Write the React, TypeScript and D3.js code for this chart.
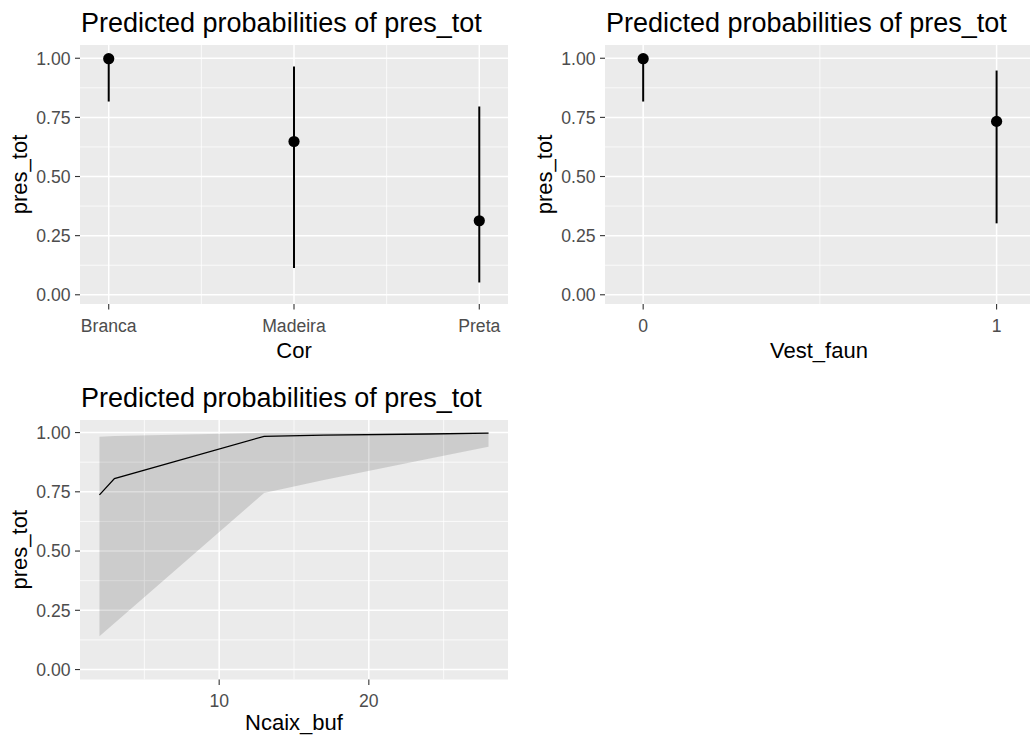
import React from "react";
import * as d3 from "d3";

const W = 1030;
const H = 740;
const FONT = "'Liberation Sans', Arial, Helvetica, sans-serif";

// Shared y axis (probability)
const yMajorTicks = [0, 0.25, 0.5, 0.75, 1];
const yMinorTicks = [0.125, 0.375, 0.625, 0.875];
const yTickLabels = ["0.00", "0.25", "0.50", "0.75", "1.00"];

const plotTitle = "Predicted probabilities of pres_tot";
const responseName = "pres_tot";

// Cor (categorical)
const corCategories = ["Branca", "Madeira", "Preta"];
const corPredicted = [0.998, 0.648, 0.313];
const corLower = [0.817, 0.113, 0.052];
const corUpper = [1.0, 0.965, 0.796];

// Vest_faun (0/1)
const vestLevels = [0, 1];
const vestPredicted = [0.998, 0.733];
const vestLower = [0.817, 0.302];
const vestUpper = [1.0, 0.948];
const vestMinorTicks = [0.5];

// Ncaix_buf (continuous)
const ncaixX = [2, 3, 13, 17, 24, 28];
const ncaixPredicted = [0.737, 0.806, 0.984, 0.989, 0.994, 0.998];
const ncaixLower = [0.14, 0.195, 0.745, 0.8, 0.89, 0.94];
const ncaixUpper = [0.982, 0.985, 0.999, 1.0, 1.0, 1.0];
const ncaixMajorTicks = [10, 20];
const ncaixMinorTicks = [5, 15, 25];

type Box = { x0: number; x1: number; y0: number; y1: number };

const PANEL_BG = "#EBEBEB";
const TICK_COLOR = "#333333";
const LABEL_COLOR = "#4D4D4D";

function Frame({
  box,
  yScale,
  xMajor,
  xMinor,
  xLabels,
  xTitle,
  xTitleOffset,
  children,
}: {
  box: Box;
  yScale: d3.ScaleLinear<number, number>;
  xMajor: number[];
  xMinor: number[];
  xLabels: string[];
  xTitle: string;
  xTitleOffset: number;
  children?: React.ReactNode;
}) {
  const clipId = `clip-${box.x0}-${box.y0}`;
  return (
    <g>
      <defs>
        <clipPath id={clipId}>
          <rect x={box.x0} y={box.y0} width={box.x1 - box.x0} height={box.y1 - box.y0} />
        </clipPath>
      </defs>
      <rect x={box.x0} y={box.y0} width={box.x1 - box.x0} height={box.y1 - box.y0} fill={PANEL_BG} />
      <g clipPath={`url(#${clipId})`}>
        {yMinorTicks.map((t) => (
          <line key={"ym" + t} x1={box.x0} x2={box.x1} y1={yScale(t)} y2={yScale(t)} stroke="#fff" strokeWidth={0.75} />
        ))}
        {xMinor.map((px, i) => (
          <line key={"xm" + i} x1={px} x2={px} y1={box.y0} y2={box.y1} stroke="#fff" strokeWidth={0.75} />
        ))}
        {yMajorTicks.map((t) => (
          <line key={"yM" + t} x1={box.x0} x2={box.x1} y1={yScale(t)} y2={yScale(t)} stroke="#fff" strokeWidth={1.5} />
        ))}
        {xMajor.map((px, i) => (
          <line key={"xM" + i} x1={px} x2={px} y1={box.y0} y2={box.y1} stroke="#fff" strokeWidth={1.5} />
        ))}
        {children}
      </g>
      {/* y axis */}
      {yMajorTicks.map((t, i) => (
        <g key={"yt" + t}>
          <line x1={box.x0 - 5} x2={box.x0} y1={yScale(t)} y2={yScale(t)} stroke={TICK_COLOR} strokeWidth={1.1} />
          <text
            x={box.x0 - 9.5}
            y={yScale(t)}
            dy="0.36em"
            textAnchor="end"
            fontSize={17.6}
            fill={LABEL_COLOR}
          >
            {yTickLabels[i]}
          </text>
        </g>
      ))}
      {/* x axis */}
      {xMajor.map((px, i) => (
        <g key={"xt" + i}>
          <line x1={px} x2={px} y1={box.y1} y2={box.y1 + 5.5} stroke={TICK_COLOR} strokeWidth={1.1} />
          <text x={px} y={box.y1 + 27.5} textAnchor="middle" fontSize={17.6} fill={LABEL_COLOR}>
            {xLabels[i]}
          </text>
        </g>
      ))}
      <text x={(box.x0 + box.x1) / 2} y={box.y1 + xTitleOffset} textAnchor="middle" fontSize={22} fill="#000">
        {xTitle}
      </text>
      <text
        transform={`translate(${box.x0 - 53},${(box.y0 + box.y1) / 2}) rotate(-90)`}
        textAnchor="middle"
        fontSize={22}
        fill="#000"
      >
        {responseName}
      </text>
      <text x={box.x0 + 1} y={box.y0 - 13} fontSize={27} fill="#000">
        {plotTitle}
      </text>
    </g>
  );
}

export default function App() {
  // Panel geometry
  const boxCor: Box = { x0: 80, x1: 508, y0: 45, y1: 304 };
  const boxVest: Box = { x0: 605, x1: 1033, y0: 45, y1: 304 };
  const boxNcaix: Box = { x0: 80, x1: 508, y0: 420, y1: 679.5 };

  const yTop = d3.scaleLinear().domain([-0.039, 1.056]).range([boxCor.y1, boxCor.y0]);
  const yBottom = d3.scaleLinear().domain([-0.042, 1.053]).range([boxNcaix.y1, boxNcaix.y0]);

  const xCor = d3.scalePoint<string>().domain(corCategories).range([boxCor.x0, boxCor.x1]).padding(0.155);
  const corPos = corCategories.map((c) => xCor(c) as number);
  const corMid = corPos.slice(1).map((p, i) => (p + corPos[i]) / 2);

  const xVest = d3.scaleLinear().domain([-0.108, 1.103]).range([boxVest.x0, boxVest.x1]);

  const xNcaix = d3.scaleLinear().domain([0.7, 29.3]).range([boxNcaix.x0, boxNcaix.x1]);

  const ribbon = d3
    .area<number>()
    .x((_, i) => xNcaix(ncaixX[i]))
    .y0((_, i) => yBottom(ncaixLower[i]))
    .y1((_, i) => yBottom(ncaixUpper[i]));
  const fitLine = d3
    .line<number>()
    .x((_, i) => xNcaix(ncaixX[i]))
    .y((d) => yBottom(d));

  return (
    <svg
      width={W}
      height={H}
      viewBox={`0 0 ${W} ${H}`}
      style={{ position: "absolute", left: 0, top: 0, background: "#fff", fontFamily: FONT }}
    >
      <rect width={W} height={H} fill="#fff" />

      <Frame
        box={boxCor}
        yScale={yTop}
        xMajor={corPos}
        xMinor={corMid}
        xLabels={corCategories}
        xTitle="Cor"
        xTitleOffset={54}
      >
        {corCategories.map((c, i) => (
          <g key={c}>
            <line
              x1={corPos[i]}
              x2={corPos[i]}
              y1={yTop(corLower[i])}
              y2={yTop(corUpper[i])}
              stroke="#000"
              strokeWidth={2}
            />
            <circle cx={corPos[i]} cy={yTop(corPredicted[i])} r={5.6} fill="#000" />
          </g>
        ))}
      </Frame>

      <Frame
        box={boxVest}
        yScale={yTop}
        xMajor={vestLevels.map((v) => xVest(v))}
        xMinor={vestMinorTicks.map((v) => xVest(v))}
        xLabels={vestLevels.map(String)}
        xTitle="Vest_faun"
        xTitleOffset={54}
      >
        {vestLevels.map((v, i) => (
          <g key={v}>
            <line
              x1={xVest(v)}
              x2={xVest(v)}
              y1={yTop(vestLower[i])}
              y2={yTop(vestUpper[i])}
              stroke="#000"
              strokeWidth={2}
            />
            <circle cx={xVest(v)} cy={yTop(vestPredicted[i])} r={5.6} fill="#000" />
          </g>
        ))}
      </Frame>

      <Frame
        box={boxNcaix}
        yScale={yBottom}
        xMajor={ncaixMajorTicks.map((v) => xNcaix(v))}
        xMinor={ncaixMinorTicks.map((v) => xNcaix(v))}
        xLabels={ncaixMajorTicks.map(String)}
        xTitle="Ncaix_buf"
        xTitleOffset={50.5}
      >
        <path d={ribbon(ncaixX) ?? ""} fill="#000" fillOpacity={0.13} />
        <path d={fitLine(ncaixPredicted) ?? ""} fill="none" stroke="#000" strokeWidth={1.3} />
      </Frame>
    </svg>
  );
}
